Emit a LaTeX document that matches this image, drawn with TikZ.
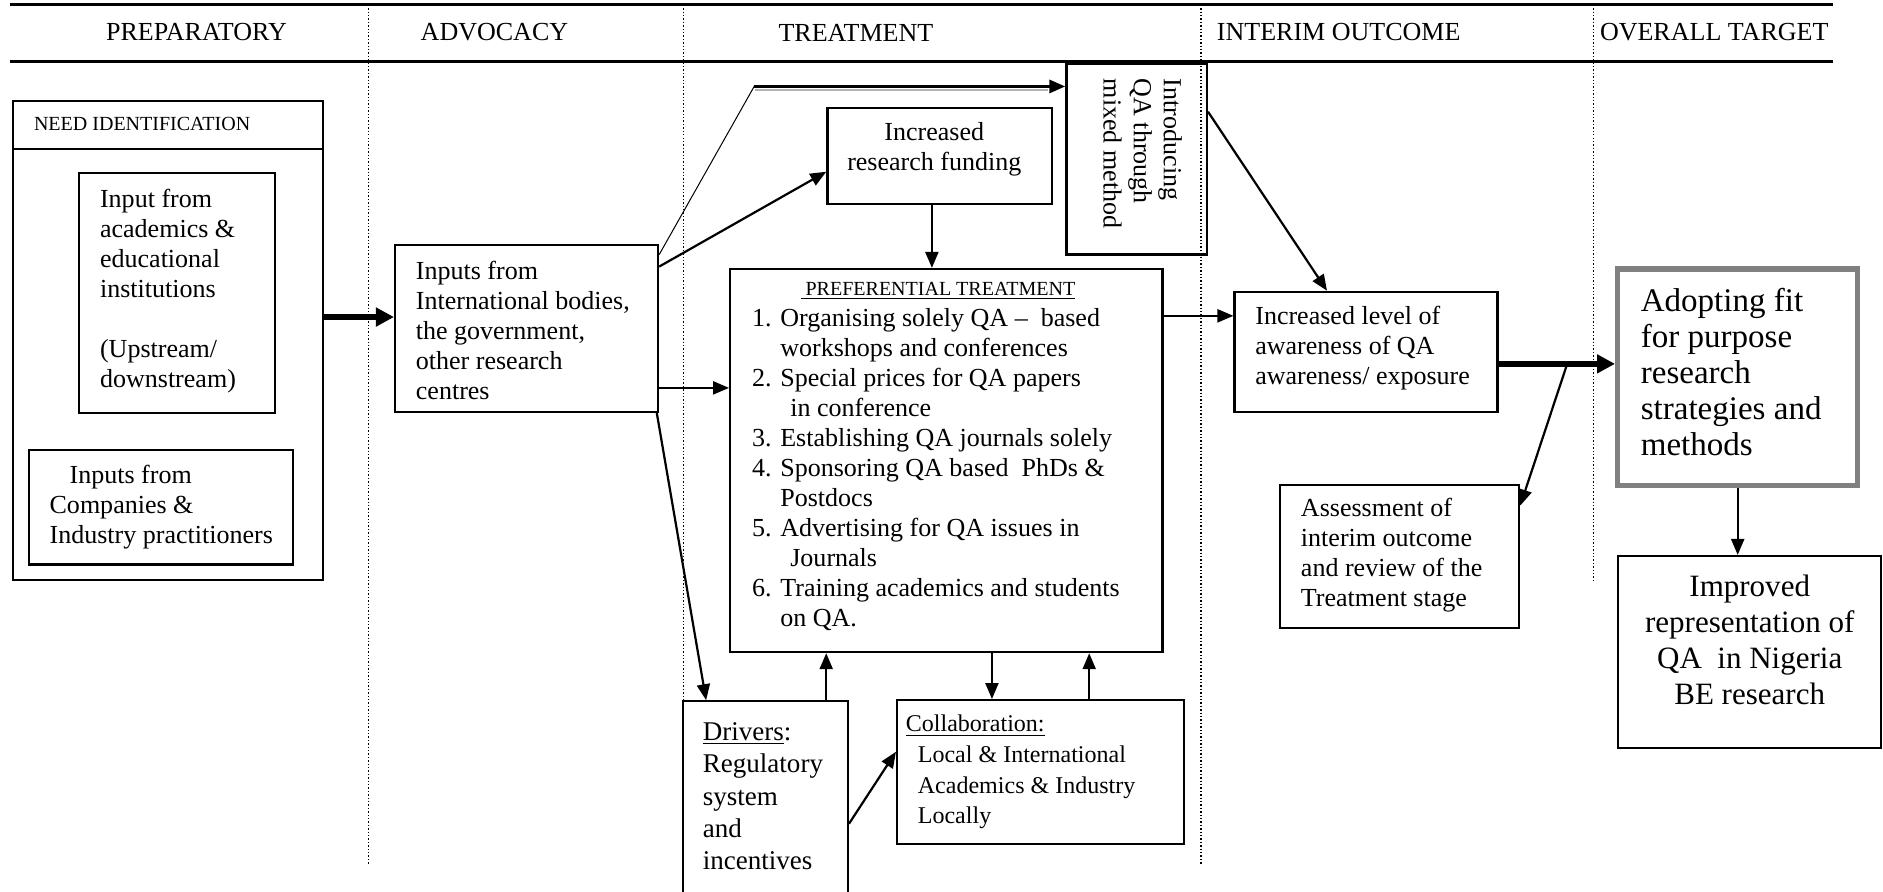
\documentclass[tikz,border=0pt]{standalone}
\usepackage{fontspec}
\setmainfont{Liberation Serif}
\usetikzlibrary{arrows.meta,calc}
\begin{document}
\begin{tikzpicture}[x=0.6pt,y=-0.6pt,
 box/.style={draw, line width=1.1pt, inner sep=0pt, rectangle},
 txt/.style={inner sep=0pt, align=left, anchor=west, font=\fontsize{13}{15}\selectfont},
 hdr/.style={inner sep=0pt, anchor=west, font=\fontsize{13}{15}\selectfont},
 arr/.style={-{Triangle[length=8pt,width=6.5pt]}, line width=1.1pt},
 tarr/.style={-{Triangle[length=9pt,width=9pt]}, line width=2.8pt},
 sepline/.style={densely dotted, line width=0.7pt}
]
\useasboundingbox (0,0) rectangle (1568,742);
\clip (0,0) rectangle (1568,742);
\fill[white] (0,0) rectangle (1568,742);

% header
\draw[line width=1.5pt] (8,4) -- (1526,4);
\draw[line width=1.5pt] (8,51) -- (1526,51);
\node[hdr] (h1) at (88,27) {PREPARATORY};
\node[hdr] (h2) at (350,27) {ADVOCACY};
\node[hdr] (h3) at (648,27) {TREATMENT};
\node[hdr] (h4) at (1013,27) {INTERIM OUTCOME};
\node[hdr] (h5) at (1332,27) {OVERALL TARGET};

% column separators
\draw[sepline] (307,4) -- (307,720);
\draw[sepline] (569,4) -- (569,742);
\draw[sepline] (1000,4) -- (1000,720);
\draw[sepline] (1327,4) -- (1327,483);

% boxes
\node[box, minimum width=154.8pt, minimum height=24pt] (needhdr) at (140,104) {};
\node[box, minimum width=154.8pt, minimum height=215.4pt] (needbody) at (140,303.5) {};
\node[box, minimum width=97.8pt, minimum height=120pt] (acad) at (147.5,244) {};
\node[box, minimum width=132pt, minimum height=57pt] (comp) at (134,422.5) {};
\node[box, minimum width=131.4pt, minimum height=83.4pt] (adv) at (438.5,273.5) {};
\node[box, minimum width=112.2pt, minimum height=48pt] (fund) at (782.5,130) {};
\node[box, minimum width=70.2pt, minimum height=95.4pt] (intro) at (946.5,132.5) {};
\node[box, minimum width=216pt, minimum height=191.4pt] (pref) at (788,383.5) {};
\node[box, minimum width=82.2pt, minimum height=99.6pt] (drv) at (637.5,667) {};
\node[box, minimum width=143.4pt, minimum height=72pt] (col) at (866.5,643) {};
\node[box, minimum width=131.4pt, minimum height=60pt] (aware) at (1137.5,293) {};
\node[box, minimum width=119.4pt, minimum height=71.4pt] (assess) at (1165.5,463.5) {};
\node[box, draw=black!50, line width=2.6pt, minimum width=120pt, minimum height=108pt] (adopt) at (1447,314) {};
\node[box, minimum width=131.4pt, minimum height=96pt] (impr) at (1456.5,543) {};

% texts
\node[txt, font=\fontsize{10}{12}\selectfont] (needT) at (28,103) {NEED IDENTIFICATION};
\node[txt] (acadT) at (83,242.5) {Input from\\academics \&\\educational\\institutions\\[15pt](Upstream/\\downstream)};
\node[txt] (compT) at (41,422) {\hspace*{10pt}Inputs from\\Companies \&\\Industry practitioners};
\node[txt] (advT) at (346,275) {Inputs from\\International bodies,\\the government,\\other research\\centres};
\node[txt, anchor=center, align=center] (fundT) at (778,124.5) {Increased\\research funding};
\node[txt, anchor=center, rotate=-90] (introT) at (951.5,128) {Introducing\\QA through\\mixed method};
\node[txt, anchor=center, font=\fontsize{10}{12}\selectfont] (prefH) at (781,242) {\underline{\ PREFERENTIAL TREATMENT}};
\node[txt] (prefL) at (626,391) {1. Organising solely QA – \ based\\
\phantom{1. }workshops and conferences\\
2. Special prices for QA papers\\
\phantom{2. }\hspace*{5pt}in conference\\
3. Establishing QA journals solely\\
4. Sponsoring QA based \ PhDs \&\\
\phantom{4. }Postdocs\\
5. Advertising for QA issues in\\
\phantom{5. }\hspace*{5pt}Journals\\
6. Training academics and students\\
\phantom{6. }on QA.};
\node[txt, font=\fontsize{13.5}{16.2}\selectfont] (drvT) at (585,663) {\underline{Drivers}:\\Regulatory\\system\\and\\incentives};
\node[txt, font=\fontsize{12}{15.3}\selectfont] (colT) at (754,643) {\underline{Collaboration:}\\\hspace*{6pt}Local \& International\\\hspace*{6pt}Academics \& Industry\\\hspace*{6pt}Locally};
\node[txt] (awT) at (1045,290) {Increased level of\\awareness of QA\\awareness/ exposure};
\node[txt] (asT) at (1083,462.5) {Assessment of\\interim outcome\\and review of the\\Treatment stage};
\node[txt, font=\fontsize{16.5}{18}\selectfont] (adT) at (1366,310) {Adopting fit\\for purpose\\research\\strategies and\\methods};
\node[txt, anchor=center, align=center, font=\fontsize{15.5}{18}\selectfont] (impT) at (1457,533) {Improved\\representation of\\QA \ in Nigeria\\BE research};

% connectors
\draw[tarr] (needbody.east |- 0,264) -- (adv.west |- 0,264);
\draw[arr] (adv.east |- 0,222) -- (fund.west |- 0,143);
\coordinate (bend) at (628,72);
\draw[line width=0.5pt] (adv.east |- 0,212) -- (bend);
\draw[black!30, line width=1pt] ($(bend)+(1,3)$) -- ($(intro.west |- bend)+(-14,3)$);
\draw[arr, line width=1.6pt] (bend) -- (intro.west |- bend);
\draw[arr] (adv.east |- 0,323) -- (pref.west |- 0,323);
\draw[arr] ($(adv.south east)+(-2,0)$) -- (drv.north -| 588,0);
\draw[arr] (fund.south -| 776,0) -- (pref.north -| 776,0);
\draw[arr] (pref.east |- 0,263) -- (aware.west |- 0,263);
\draw[arr] (intro.east |- 0,93) -- (aware.north -| 1105,0);
\draw[tarr] (aware.east |- 0,303) -- (adopt.west |- 0,303);
\coordinate (split) at (1305,303);
\draw[arr] (split) -- (assess.east |- 0,421);
\draw[arr] (adopt.south) -- (impr.north -| adopt.south);
\draw[arr] (drv.north -| 688,0) -- (pref.south -| 688,0);
\draw[arr] (pref.south -| 826,0) -- (col.north -| 826,0);
\draw[arr] (col.north -| 907,0) -- (pref.south -| 907,0);
\draw[arr] (drv.east |- 0,686) -- (col.west |- 0,626);
\end{tikzpicture}
\end{document}
